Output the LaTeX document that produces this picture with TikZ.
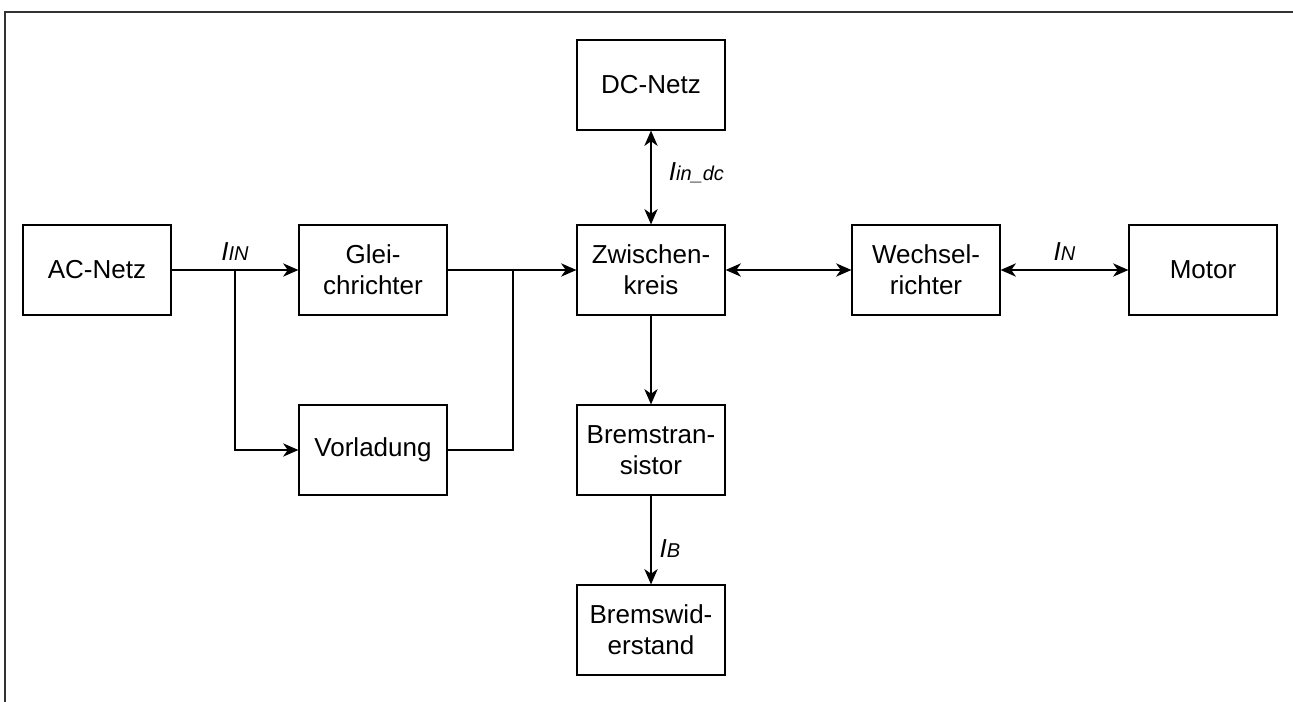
\documentclass[tikz,border=0pt]{standalone}
\usepackage{fontspec}
\setmainfont{Liberation Sans}
\usetikzlibrary{arrows.meta}

\begin{document}
\begin{tikzpicture}[x=0.75pt, y=-0.75pt, line width=0.9pt,
  >={Stealth[length=11.5pt, width=10pt, inset=3.5pt]}]
\tikzstyle{block}=[draw, rectangle, minimum width=111pt, minimum height=67.5pt,
  inner sep=0pt, align=center, font=\fontsize{19.5}{23}\selectfont];
\tikzstyle{lbl}=[inner sep=1pt, font=\fontsize{19.5}{23}\selectfont\itshape];
\useasboundingbox (0,0) rectangle (1293,702);
% frame
\draw[line width=1.5pt, black!80] (5,702) -- (5,12) -- (1293,12);

\node [block] (ac) at (97,270) {AC-Netz};
\node [block] (gr) at (373,270) {Glei-\\chrichter};
\node [block] (vl) at (373,450) {Vorladung};
\node [block] (dc) at (651,85) {DC-Netz};
\node [block] (zk) at (651,270) {Zwischen-\\kreis};
\node [block] (bt) at (651,450) {Bremstran-\\sistor};
\node [block] (bw) at (651,630) {Bremswid-\\erstand};
\node [block] (wr) at (926,270) {Wechsel-\\richter};
\node [block] (mo) at (1203,270) {Motor};

\coordinate (split) at (235,270);
\coordinate (join) at (513,270);

\draw [->] (ac) -- (gr) node [lbl, pos=0.5, above=6pt] {I{\fontsize{15}{17}\selectfont IN}};
\draw [->] (split) |- (vl);
\draw [->] (gr) -- (zk);
\draw (vl) -| (join);
\draw [<->] (dc) -- (zk) node [lbl, pos=0.45, right=12pt] {I{\fontsize{15}{17}\selectfont in\_dc}};
\draw [<->] (zk) -- (wr);
\draw [<->] (wr) -- (mo) node [lbl, pos=0.5, above=6pt] {I{\fontsize{15}{17}\selectfont N}};
\draw [->] (bt) -- (bw) node [lbl, pos=0.6, right=5pt] {I{\fontsize{15}{17}\selectfont B}};
\draw [->] (zk) -- (bt);
\end{tikzpicture}
\end{document}
